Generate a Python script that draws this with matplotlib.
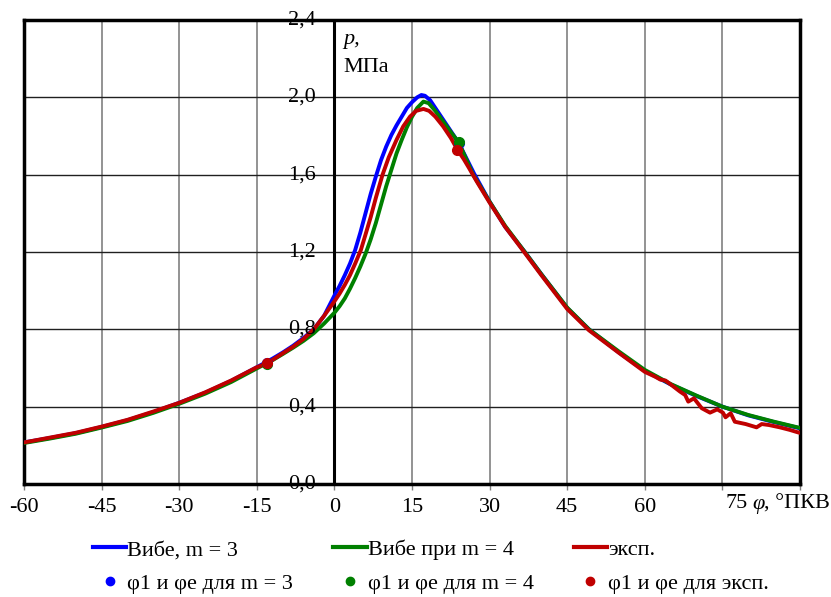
import numpy as np
import matplotlib
matplotlib.use('Agg')
import matplotlib.pyplot as plt
from matplotlib.lines import Line2D

plt.rcParams['font.family'] = ['Liberation Serif', 'DejaVu Serif']

# Wiebe, m = 3
bx = [-60, -55, -50, -45, -40, -35, -30, -25, -20, -15, -12, -10, -8, -6, -4, -2, 0, 1, 2, 3,
      4, 5, 6, 7, 8, 9, 10, 11, 12, 13, 14, 15, 16, 16.8, 17.5, 18.5, 20, 22, 24, 27, 30, 33,
      36.8, 40, 45, 49.2, 55, 60, 65, 70, 75, 80, 85, 90]
by = [0.215, 0.238, 0.263, 0.295, 0.33, 0.372, 0.42, 0.472, 0.533, 0.604, 0.648, 0.68, 0.715,
      0.755, 0.80, 0.87, 0.975, 1.025, 1.08, 1.14, 1.21, 1.30, 1.40, 1.50, 1.59, 1.675, 1.745,
      1.805, 1.855, 1.90, 1.945, 1.975, 2.0, 2.012, 2.008, 1.985, 1.925, 1.845, 1.765, 1.605,
      1.46, 1.33, 1.2, 1.085, 0.91, 0.80, 0.68, 0.585, 0.515, 0.455, 0.40, 0.355, 0.32, 0.288]

# Wiebe, m = 4
gx = [-60, -55, -50, -45, -40, -35, -30, -25, -20, -15, -12, -10, -8, -6, -4, -2, 0, 1, 2, 3,
      4, 5, 6, 7, 8, 9, 10, 11, 12, 13, 14, 15, 16, 17.2, 18.2, 19.5, 21, 22.5, 24, 26.8, 30,
      33, 36.8, 40, 45, 49.2, 55, 60, 65, 70, 75, 80, 85, 90]
gy = [0.212, 0.235, 0.26, 0.292, 0.326, 0.368, 0.415, 0.467, 0.527, 0.598, 0.64, 0.672, 0.705,
      0.74, 0.78, 0.83, 0.886, 0.92, 0.96, 1.01, 1.065, 1.125, 1.19, 1.265, 1.35, 1.445, 1.54,
      1.625, 1.71, 1.78, 1.845, 1.90, 1.945, 1.978, 1.97, 1.93, 1.875, 1.82, 1.768, 1.6, 1.46,
      1.335, 1.2, 1.085, 0.912, 0.80, 0.685, 0.59, 0.517, 0.457, 0.40, 0.357, 0.322, 0.29]

# experiment
rx = [-60, -55, -50, -45, -40, -35, -30, -25, -20, -15, -13, -10, -8, -6, -4, -2, 0, 1, 2, 3,
      4, 5.1, 6, 7, 8, 9.3, 10.5, 12, 13.3, 14.6, 15.8, 17.2, 18.3, 19.5, 21, 22.5, 23.8, 25,
      26, 27.5, 30, 33, 36.8, 40, 45, 49.2, 55, 60, 62, 63, 64, 65, 66.8, 67.8, 68.4, 69.5,
      71.0, 72.6, 74.0, 75.1, 75.6, 76.6, 77.4, 79.5, 81.6, 82.6, 84, 86.1, 88, 89.6, 90]
ry = [0.215, 0.24, 0.265, 0.297, 0.332, 0.375, 0.42, 0.474, 0.535, 0.604, 0.624, 0.676, 0.71,
      0.75, 0.80, 0.87, 0.945, 0.985, 1.03, 1.08, 1.14, 1.21, 1.29, 1.38, 1.48, 1.6, 1.69, 1.78,
      1.85, 1.90, 1.93, 1.94, 1.93, 1.90, 1.85, 1.79, 1.728, 1.68, 1.635, 1.565, 1.455, 1.33,
      1.195, 1.08, 0.905, 0.795, 0.678, 0.58, 0.555, 0.54, 0.535, 0.515, 0.478, 0.46, 0.426,
      0.443, 0.392, 0.369, 0.386, 0.369, 0.345, 0.366, 0.322, 0.31, 0.293, 0.31, 0.305, 0.293,
      0.28, 0.267, 0.265]

# phi1 and phie points
bdx, bdy = [-13, 24.0], [0.624, 1.765]
gdx, gdy = [-13, 24.1], [0.62, 1.768]
rdx, rdy = [-13, 23.7], [0.624, 1.728]

xticks = [-60, -45, -30, -15, 0, 15, 30, 45, 60, 75, 90]
xlabels = ['-60', '-45', '-30', '-15', '0', '15', '30', '45', '60', '', '']
yticks = [0.0, 0.4, 0.8, 1.2, 1.6, 2.0, 2.4]
ylabels = ['0,0', '0,4', '0,8', '1,2', '1,6', '2,0', '2,4']

blue = '#0000ff'
green = '#008000'
red = '#c00000'
fs = 16

fig = plt.figure(figsize=(8.31, 5.97), dpi=100)
ax = fig.add_axes([0.029, 0.1893, 0.9337, 0.7772])

ax.plot(bx, by, color=blue, lw=2.8, zorder=3)
ax.plot(gx, gy, color=green, lw=2.8, zorder=4)
ax.plot(rx, ry, color=red, lw=2.8, zorder=5)
ax.plot(bdx, bdy, 'o', color=blue, ms=7, zorder=6)
ax.plot(gdx, gdy, 'o', color=green, ms=7, zorder=6)
ax.plot(rdx, rdy, 'o', color=red, ms=7, zorder=7)

ax.set_xlim(-60, 90)
ax.set_ylim(0, 2.4)
ax.set_xticks(xticks, labels=xlabels, fontsize=fs)
ax.set_yticks(yticks)
ax.tick_params(axis='y', left=False, labelleft=False)
ax.tick_params(axis='x', direction='out', length=4, width=1, color='#808080', pad=6)
ax.xaxis.grid(True, color='#808080', lw=1.2)
ax.yaxis.grid(True, color='#202020', lw=1.0)
ax.set_axisbelow(True)
for s in ax.spines.values():
    s.set_linewidth(2.5)
ax.axvline(0, color='black', lw=2.2, zorder=2)

for v, lab in zip(yticks, ylabels):
    ax.text(-3.6, v, lab, ha='right', va='center', fontsize=fs, zorder=8, clip_on=False)

ax.text(1.7, 2.276, 'p,', style='italic', fontsize=fs, ha='left', va='baseline')
ax.text(1.7, 2.131, 'МПа', fontsize=fs, ha='left', va='baseline')

# last tick labels and axis name
fig.text(737 / 831, 1 - 504 / 597, '75', fontsize=fs, ha='center', va='center')
fig.text(752 / 831, 1 - 504 / 597, 'φ', style='italic', fontsize=fs, ha='left', va='center')
fig.text(764 / 831, 1 - 504 / 597, ', °ПКВ', fontsize=fs, ha='left', va='center')

handles = [
    Line2D([], [], color=blue, lw=3),
    Line2D([], [], color=blue, marker='o', ls='none', ms=6),
    Line2D([], [], color=green, lw=3),
    Line2D([], [], color=green, marker='o', ls='none', ms=6),
    Line2D([], [], color=red, lw=3),
    Line2D([], [], color=red, marker='o', ls='none', ms=6),
]
labels = ['Вибе, m = 3', 'φ1 и φe для m = 3',
          'Вибе при m = 4', 'φ1 и φe для m = 4',
          'эксп.', 'φ1 и φe для эксп.']
fig.legend(handles, labels, ncol=3, loc='upper left', bbox_to_anchor=(93 / 831, 0.096),
           frameon=False, fontsize=fs, handlelength=1.5, handletextpad=0.05,
           columnspacing=1.8, labelspacing=0.6, borderpad=0, borderaxespad=0)

fig.savefig('out.png', dpi=100)
